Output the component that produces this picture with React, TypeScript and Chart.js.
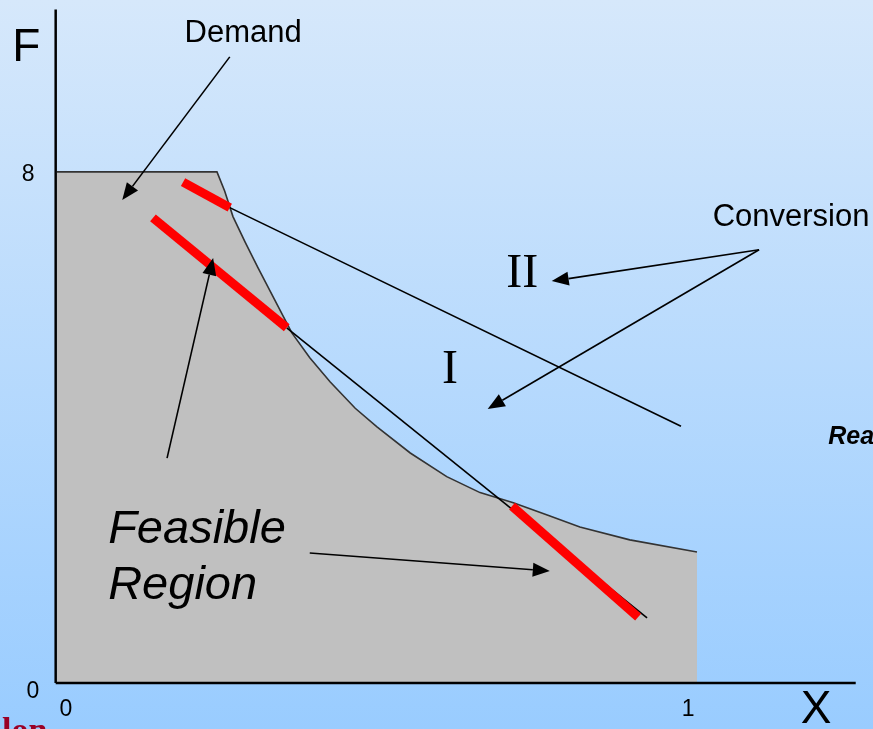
import { useEffect, useRef } from "react";
import { Chart, registerables } from "chart.js";

Chart.register(...registerables);

// Feasible-region boundary (X, F)
const boundaryX = [0, 0.25, 0.262, 0.275, 0.294, 0.314, 0.34, 0.367, 0.395, 0.427, 0.466, 0.5, 0.552, 0.609, 0.661, 0.713, 0.766, 0.817, 0.895, 1];
const boundaryY = [8, 8, 7.7, 7.3, 6.9, 6.5, 6.0, 5.48, 5.09, 4.71, 4.3, 4.01, 3.6, 3.23, 2.98, 2.82, 2.63, 2.44, 2.24, 2.05];

// Conversion lines
const lineIIX = [0.27, 0.975];
const lineIIY = [7.44, 4.02];
const lineIX = [0.359, 0.922];
const lineIY = [5.56, 1.02];

// Red segments
const redTopX = [0.197, 0.27];
const redTopY = [7.84, 7.44];
const redMidX = [0.15, 0.359];
const redMidY = [7.28, 5.56];
const redLowX = [0.711, 0.908];
const redLowY = [2.77, 1.03];

// Axes
const xAxisX = [-0.002, 1.248];
const xAxisY = [0, 0];
const yAxisX = [-0.002, -0.002];
const yAxisY = [0, 10.54];

// Tick labels
const xTickLabels = ["0", "1"];
const xTickPosX = [0.014, 0.986];
const xTickPosY = [-0.41, -0.41];
const yTickLabels = ["0", "8"];
const yTickPosX = [-0.0375, -0.045];
const yTickPosY = [-0.14, 7.95];

// Arrows [fromX, fromY, toX, toY]
const arrowDemand = [0.27, 9.8, 0.102, 7.56];
const arrowConvII = [1.097, 6.78, 0.773, 6.29];
const arrowConvI = [1.097, 6.78, 0.673, 4.29];
const arrowFeasible = [0.172, 3.52, 0.244, 6.65];
const arrowRegion = [0.395, 2.035, 0.77, 1.753];

const zip = (xs: number[], ys: number[]) => xs.map((x, i) => ({ x, y: ys[i] }));

const overlayPlugin = {
  id: "overlay",
  beforeDraw(chart: any) {
    const { ctx, width, height } = chart;
    const g = ctx.createLinearGradient(0, 0, 0, height);
    g.addColorStop(0, "#d6e8fb");
    g.addColorStop(1, "#99ccff");
    ctx.save();
    ctx.fillStyle = g;
    ctx.fillRect(0, 0, width, height);
    ctx.restore();
  },
  afterDatasetsDraw(chart: any) {
    const { ctx } = chart;
    const sx = chart.scales.x;
    const sy = chart.scales.y;
    const px = (v: number) => sx.getPixelForValue(v);
    const py = (v: number) => sy.getPixelForValue(v);

    const arrow = (a: number[]) => {
      const x1 = px(a[0]), y1 = py(a[1]), x2 = px(a[2]), y2 = py(a[3]);
      const ang = Math.atan2(y2 - y1, x2 - x1);
      const len = 17, half = 7;
      const bx = x2 - len * Math.cos(ang), by = y2 - len * Math.sin(ang);
      ctx.save();
      ctx.strokeStyle = "#000";
      ctx.fillStyle = "#000";
      ctx.lineWidth = 1.6;
      ctx.beginPath();
      ctx.moveTo(x1, y1);
      ctx.lineTo(bx, by);
      ctx.stroke();
      ctx.beginPath();
      ctx.moveTo(x2, y2);
      ctx.lineTo(bx + half * Math.sin(ang), by - half * Math.cos(ang));
      ctx.lineTo(bx - half * Math.sin(ang), by + half * Math.cos(ang));
      ctx.closePath();
      ctx.fill();
      ctx.restore();
    };
    [arrowDemand, arrowConvII, arrowConvI, arrowFeasible, arrowRegion].forEach(arrow);

    const text = (t: string, x: number, y: number, font: string, align: CanvasTextAlign = "center", color = "#000") => {
      ctx.save();
      ctx.font = font;
      ctx.fillStyle = color;
      ctx.textAlign = align;
      ctx.textBaseline = "middle";
      ctx.fillText(t, px(x), py(y));
      ctx.restore();
    };
    const sans = '"Liberation Sans", Arial, sans-serif';
    const serif = '"Liberation Serif", "Times New Roman", serif';

    xTickLabels.forEach((l, i) => text(l, xTickPosX[i], xTickPosY[i], `23px ${sans}`));
    yTickLabels.forEach((l, i) => text(l, yTickPosX[i], yTickPosY[i], `23px ${sans}`));
    text("F", -0.048, 9.93, `46px ${sans}`);
    text("X", 1.186, -0.43, `46px ${sans}`);
    text("Demand", 0.291, 10.16, `31px ${sans}`);
    text("Conversion", 1.147, 7.28, `31px ${sans}`);
    text("II", 0.727, 6.4, `48px ${serif}`);
    text("I", 0.614, 4.9, `48px ${serif}`);
    text("Feasible", 0.08, 2.395, `italic 47px ${sans}`, "left");
    text("Region", 0.08, 1.519, `italic 47px ${sans}`, "left");
    text("Reaction", 1.205, 3.85, `bold italic 25px ${sans}`, "left");

    // footer logo text, mostly off-canvas
    ctx.save();
    ctx.font = `bold 34px ${serif}`;
    ctx.fillStyle = "#990026";
    ctx.textAlign = "left";
    ctx.textBaseline = "alphabetic";
    ctx.fillText("lon", 2, 741);
    ctx.restore();
  },
};

export default function App() {
  const ref = useRef<HTMLCanvasElement | null>(null);
  useEffect(() => {
    document.body.style.margin = "0";
    const canvas = ref.current;
    if (!canvas) return;
    const line = (data: any[], color: string, width: number, order: number, extra: any = {}) => ({
      data,
      borderColor: color,
      borderWidth: width,
      pointRadius: 0,
      fill: false,
      tension: 0,
      order,
      borderCapStyle: "butt",
      ...extra,
    });
    const chart = new Chart(canvas, {
      type: "line",
      data: {
        datasets: [
          line(zip(redTopX, redTopY), "#ff0000", 9, 0),
          line(zip(redMidX, redMidY), "#ff0000", 9, 0),
          line(zip(redLowX, redLowY), "#ff0000", 9, 0),
          line(zip(lineIIX, lineIIY), "#000", 1.6, 1),
          line(zip(lineIX, lineIY), "#000", 1.6, 1),
          line(zip(xAxisX, xAxisY), "#000", 2.5, 2),
          line(zip(yAxisX, yAxisY), "#000", 2.5, 2),
          line(zip(boundaryX, boundaryY), "#333", 1.6, 3, {
            fill: "origin",
            backgroundColor: "#c0c0c0",
          }),
        ] as any,
      },
      options: {
        animation: false,
        responsive: false,
        maintainAspectRatio: false,
        layout: { padding: 0 },
        parsing: false as any,
        scales: {
          x: { type: "linear", min: -0.089, max: 1.275, display: false },
          y: { type: "linear", min: -0.72, max: 10.69, display: false },
        },
        plugins: { legend: { display: false }, tooltip: { enabled: false } },
        events: [],
      },
      plugins: [overlayPlugin],
    });
    return () => chart.destroy();
  }, []);
  return <canvas ref={ref} width={873} height={729} style={{ display: "block", width: 873, height: 729 }} />;
}
